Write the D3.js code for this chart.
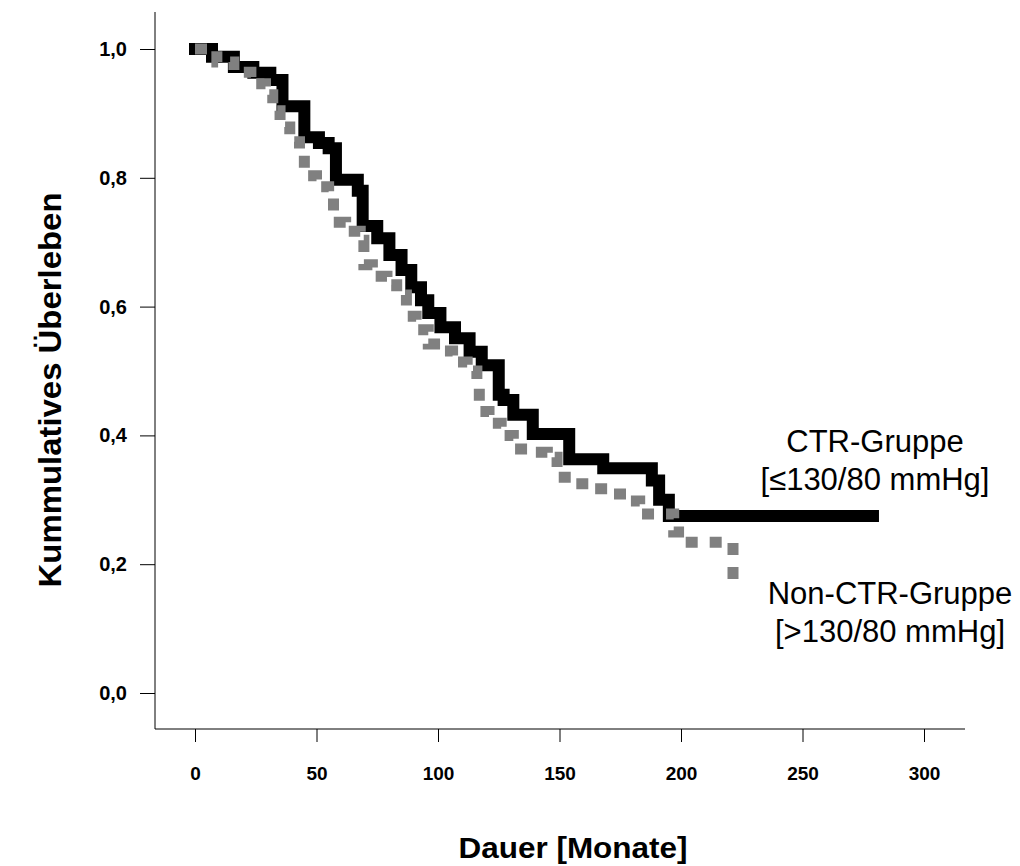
<!DOCTYPE html>
<html>
<head>
<meta charset="utf-8">
<script src="https://cdn.jsdelivr.net/npm/d3@7"></script>
<style>
  html, body { margin: 0; padding: 0; background: #fff; }
  svg { display: block; font-family: Arial, "Liberation Sans", sans-serif; }
</style>
</head>
<body>
<svg id="chart" width="1020" height="866"></svg>
<script>
// Kaplan-Meier step points: [month, cumulative survival after the event]
const ctrSteps = [
  [0, 1.0], [7, 0.988], [16, 0.972], [24, 0.963], [31, 0.952], [36, 0.911],
  [45, 0.863], [51, 0.854], [55, 0.846], [58, 0.797], [67, 0.78], [69, 0.725],
  [75, 0.706], [80, 0.68], [85, 0.657], [89, 0.63], [93, 0.61], [96, 0.59],
  [101, 0.568], [107, 0.551], [113, 0.53], [118, 0.509], [125, 0.463],
  [127, 0.455], [131, 0.432], [139, 0.402], [154, 0.363], [168, 0.349],
  [188, 0.33], [191, 0.30], [195, 0.275], [279, 0.275]
];
const nonCtrSteps = [
  [0, 1.0], [9, 0.98], [16, 0.964], [23, 0.946], [29, 0.929], [32, 0.904],
  [35, 0.879], [39, 0.856], [43, 0.84], [45, 0.803], [50, 0.786], [55, 0.773],
  [57, 0.731], [62, 0.717], [68, 0.703], [69.5, 0.665], [73, 0.647], [79, 0.634],
  [83, 0.618], [87, 0.585], [91, 0.564], [96, 0.542], [101, 0.531], [106, 0.514],
  [112, 0.5], [116, 0.475], [117, 0.437], [121, 0.419], [126, 0.40], [131, 0.379],
  [138, 0.374], [145, 0.366], [149, 0.335], [155, 0.325], [163, 0.317],
  [171, 0.309], [178, 0.298], [183, 0.278], [197, 0.25], [199, 0.234],
  [221.4, 0.177]
];
const xTickValues = [0, 50, 100, 150, 200, 250, 300];
const yTickValues = [0, 0.2, 0.4, 0.6, 0.8, 1.0];
const yTickLabels = ["0,0", "0,2", "0,4", "0,6", "0,8", "1,0"];
const groupLabels = [
  ["CTR-Gruppe", "[≤130/80 mmHg]"],
  ["Non-CTR-Gruppe", "[>130/80 mmHg]"]
];
const xTitle = "Dauer [Monate]";
const yTitle = "Kummulatives Überleben";

const svg = d3.select("#chart");

const x = d3.scaleLinear().domain([0, 300]).range([195, 924]);
const y = d3.scaleLinear().domain([0, 1]).range([693, 49]);

const axisX = 155, axisY = 729;

// axis lines
svg.append("line")
  .attr("x1", axisX).attr("x2", axisX).attr("y1", 12).attr("y2", axisY)
  .attr("stroke", "#000").attr("stroke-width", 1);
svg.append("line")
  .attr("x1", axisX).attr("x2", 965).attr("y1", axisY).attr("y2", axisY)
  .attr("stroke", "#000").attr("stroke-width", 1);

// y axis ticks + labels
const gy = svg.append("g")
  .attr("transform", `translate(${axisX},0)`)
  .call(d3.axisLeft(y).tickValues(yTickValues).tickSize(15).tickPadding(13)
    .tickFormat((d, i) => yTickLabels[i]));
gy.select(".domain").remove();
gy.selectAll(".tick line").attr("stroke", "#000");
gy.selectAll(".tick text")
  .attr("font-family", "Arial, 'Liberation Sans', sans-serif")
  .attr("font-size", 20).attr("font-weight", "bold").attr("fill", "#000");

// x axis ticks + labels
const gx = svg.append("g")
  .attr("transform", `translate(0,${axisY})`)
  .call(d3.axisBottom(x).tickValues(xTickValues).tickSize(13).tickPadding(25)
    .tickFormat(d3.format("d")));
gx.select(".domain").remove();
gx.selectAll(".tick line").attr("stroke", "#000");
gx.selectAll(".tick text")
  .attr("font-family", "Arial, 'Liberation Sans', sans-serif")
  .attr("font-size", 19).attr("font-weight", "bold").attr("fill", "#000");

// survival curves
const step = d3.line()
  .x(d => x(d[0]))
  .y(d => y(d[1]))
  .curve(d3.curveStepAfter);

svg.append("path")
  .datum(ctrSteps)
  .attr("d", step)
  .attr("fill", "none")
  .attr("stroke", "#000")
  .attr("stroke-width", 12)
  .attr("stroke-linecap", "square")
  .attr("stroke-linejoin", "miter");

// dashed curve: dashes that wrap a corner keep the mitred elbow
svg.append("path")
  .datum(nonCtrSteps)
  .attr("d", step)
  .attr("fill", "none")
  .attr("stroke", "#808080")
  .attr("stroke-width", 11)
  .attr("stroke-dasharray", "12,12")
  .attr("stroke-linecap", "butt")
  .attr("stroke-linejoin", "miter");

// group labels
const labelPos = [
  { cx: 875, y0: 452, y1: 490 },
  { cx: 890, y0: 604, y1: 642 }
];
groupLabels.forEach((lines, i) => {
  lines.forEach((t, j) => {
    svg.append("text")
      .attr("x", labelPos[i].cx)
      .attr("y", j === 0 ? labelPos[i].y0 : labelPos[i].y1)
      .attr("text-anchor", "middle")
      .attr("font-size", 31)
      .attr("fill", "#000")
      .text(t);
  });
});

// axis titles
svg.append("text")
  .attr("x", 573).attr("y", 858)
  .attr("text-anchor", "middle")
  .attr("font-size", 29).attr("font-weight", "bold")
  .attr("textLength", 229).attr("lengthAdjust", "spacingAndGlyphs")
  .text(xTitle);

svg.append("text")
  .attr("transform", "translate(61,390) rotate(-90)")
  .attr("text-anchor", "middle")
  .attr("font-size", 31).attr("font-weight", "bold")
  .attr("textLength", 395).attr("lengthAdjust", "spacingAndGlyphs")
  .text(yTitle);
</script>
</body>
</html>
